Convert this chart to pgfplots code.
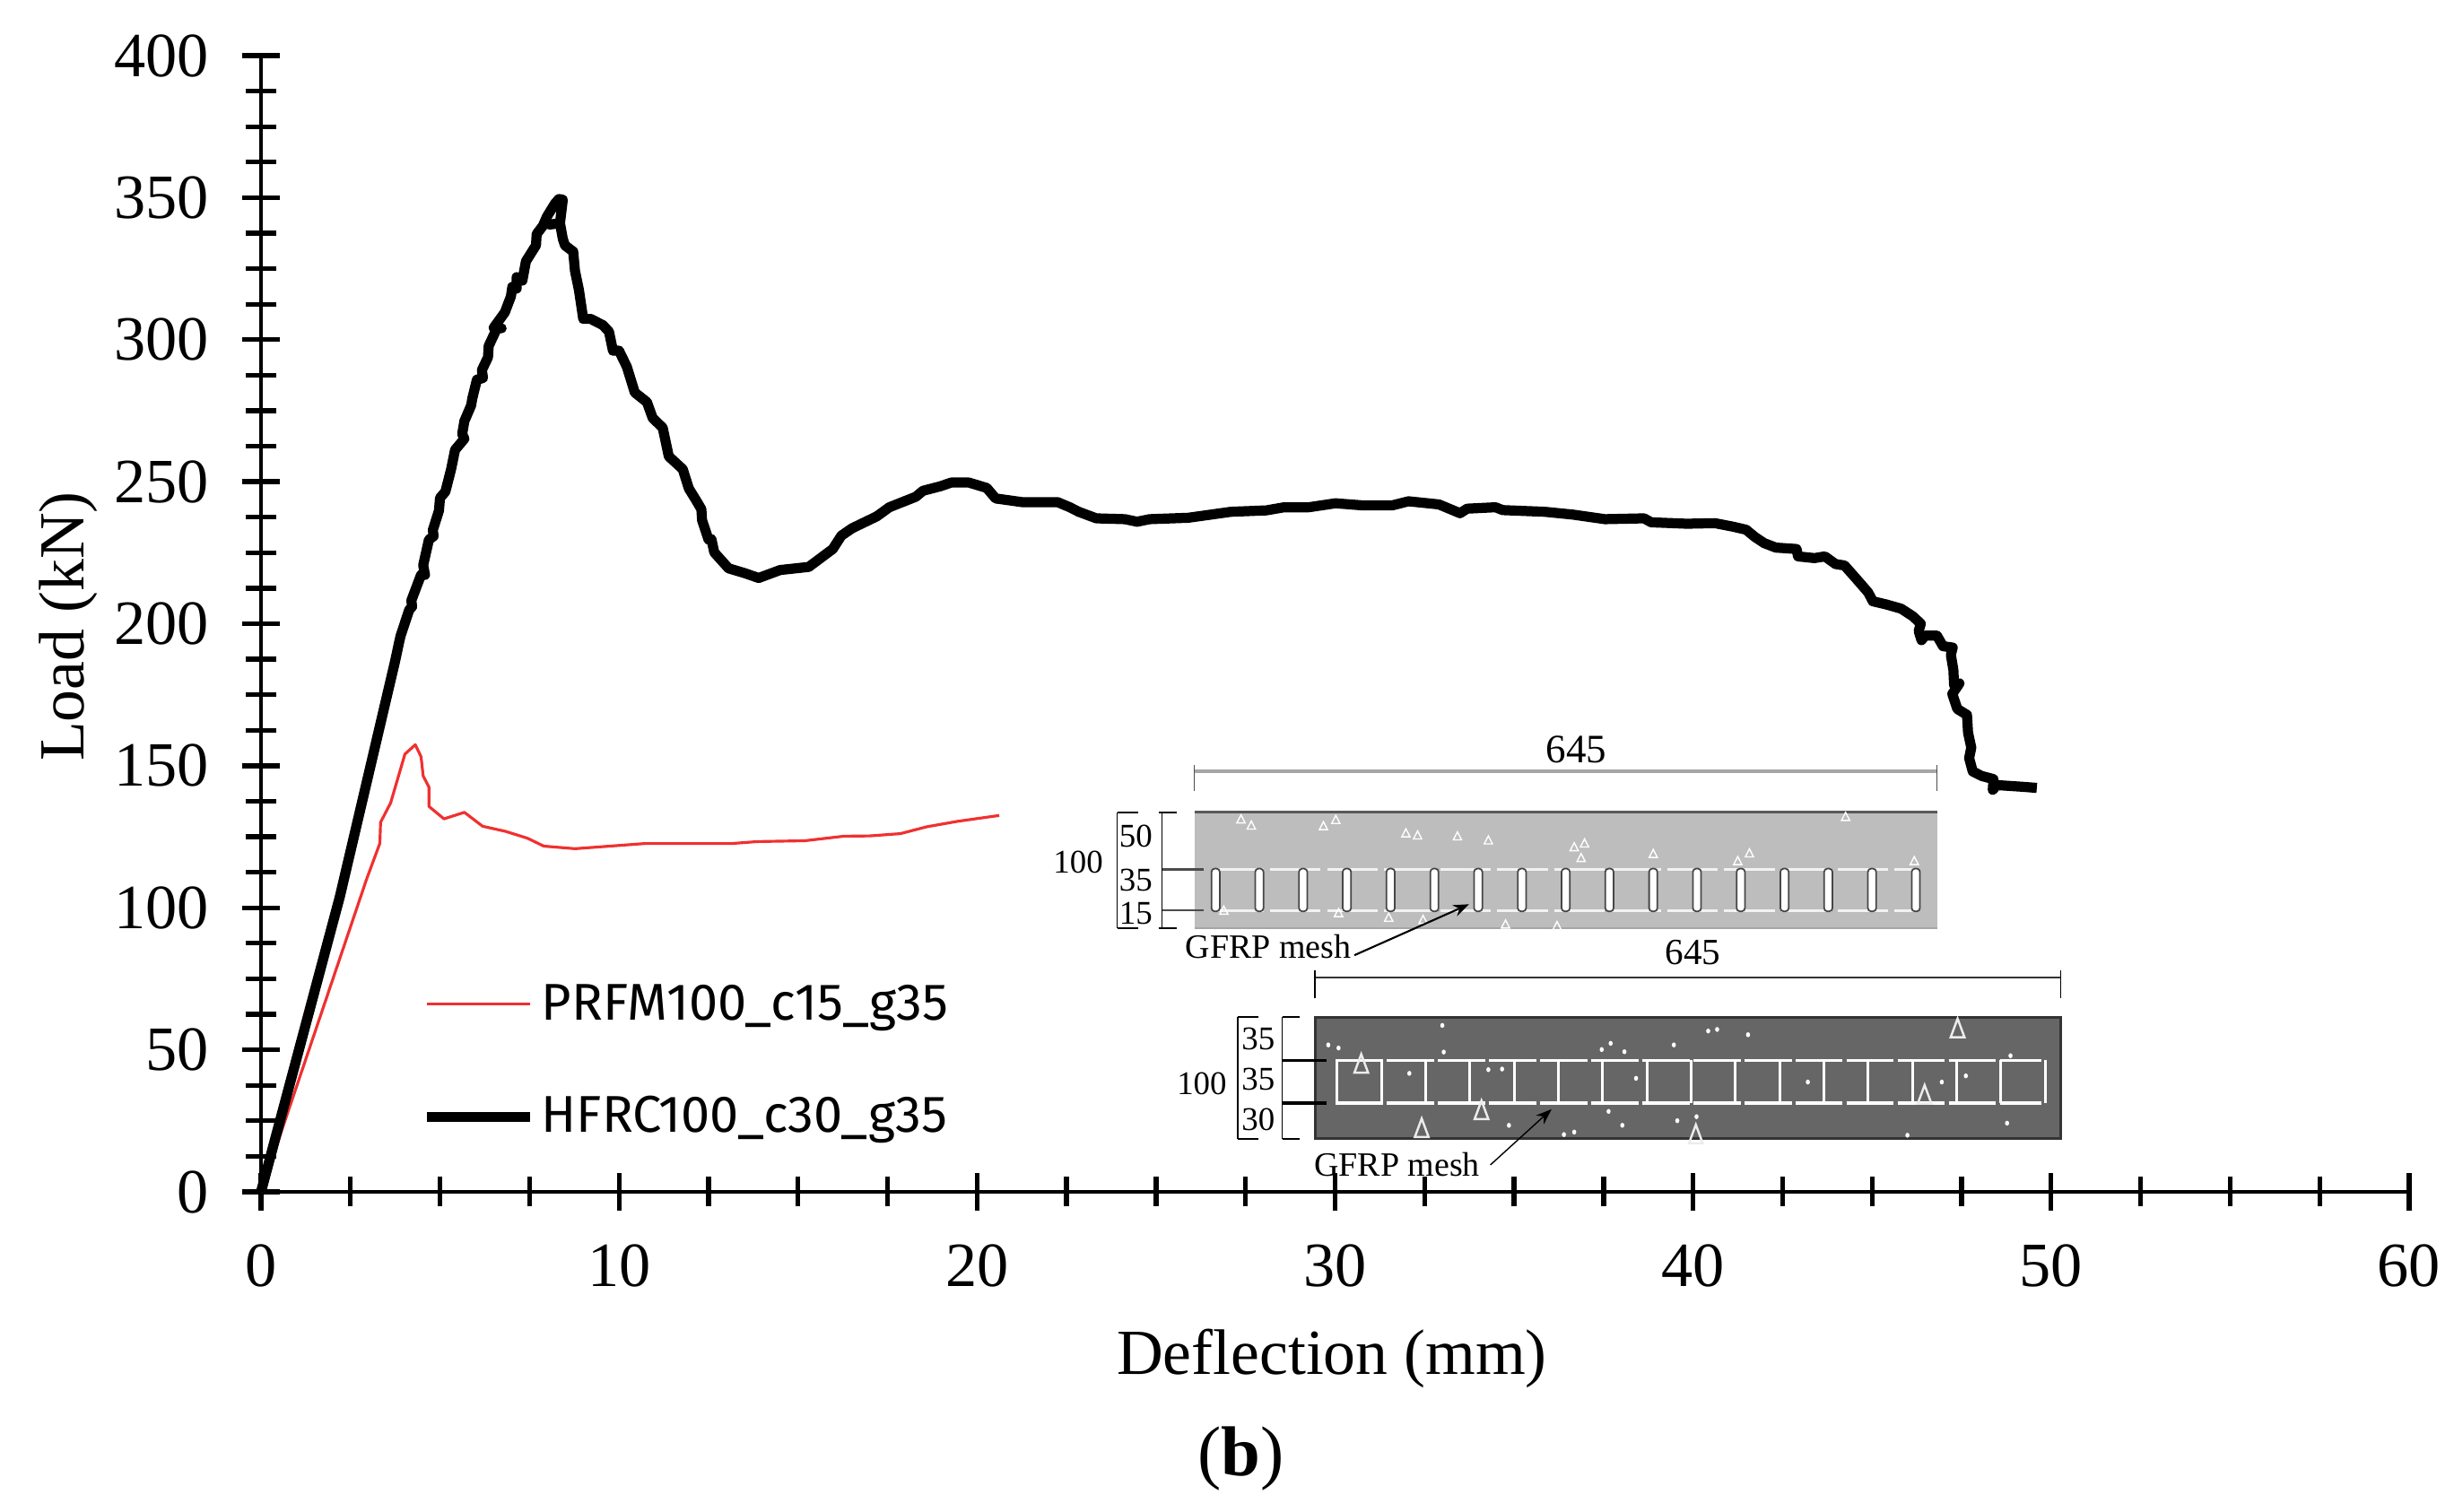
\documentclass[border=0pt]{standalone}
\usepackage{fontspec}
\setmainfont{Liberation Serif}
\newfontfamily\legfont{Fira Sans}
\usepackage{pgfplots}
\pgfplotsset{compat=1.18}
\usetikzlibrary{arrows.meta}
\definecolor{lightpanel}{HTML}{BDBDBD}
\definecolor{darkpanel}{HTML}{666666}
\definecolor{curvered}{HTML}{F03030}
\newcommand{\pts}[1]{\fontsize{#1}{#1}\selectfont}
\begin{document}
\begin{tikzpicture}
\useasboundingbox (-2.91,-3.57) rectangle (24.45,13.29);
\begin{axis}[
  scale only axis, width=23.95cm, height=12.67cm,
  xmin=0, xmax=60, ymin=0, ymax=400,
  axis x line=bottom, axis y line=left,
  axis line style={-, line width=1.4pt},
  xtick={0,10,...,60}, ytick={0,50,...,400},
  minor tick num=3,
  tick align=center,
  major tick length=0.42cm, minor tick length=0.33cm,
  tick style={black, line width=1.5pt},
  minor tick style={black, line width=1.5pt},
  /pgf/number format/assume math mode=true,
  tick label style={font=\pts{20}},
  xticklabel style={yshift=-0.25cm},
  yticklabel style={xshift=-0.25cm},
  xlabel={Deflection (mm)}, ylabel={Load (kN)},
  label style={font=\pts{20.4}},
  x label style={at={(axis description cs:0.4985,-0.147)}, anchor=center},
  y label style={at={(axis description cs:-0.0895,0.4976)}, anchor=center},
  clip=false,
  legend cell align=left,
  legend style={at={(axis cs:4.48,46.2)}, anchor=west, draw=none, fill=none,
    inner sep=0pt, font=\legfont\pts{16.4}, row sep=0.80cm,
    nodes={inner sep=0pt, anchor=west}},
  legend image code/.code={\draw[#1] (0,0) -- (1.15cm,0); \path (1.22cm,0);},
]
\addplot[curvered, line width=0.9pt, line join=round] coordinates {
  (0,0) (2.95,110.1) (3.32,122.7) (3.34,130.1) (3.62,136.9) (4.02,154.1)
  (4.31,157.4) (4.47,153.2) (4.53,146.4) (4.69,142.5) (4.69,135.7) (5.11,131.3)
  (5.68,133.6) (6.19,128.7) (6.83,126.9) (7.44,124.5) (7.9,121.7) (8.77,120.8)
  (9.74,121.7) (10.71,122.6) (13.13,122.6) (13.86,123.3) (15.19,123.6)
  (16.28,125.2) (17.0,125.3) (17.86,126.1) (18.59,128.5) (19.44,130.4) (20.62,132.5)
};
\addlegendentry{PRFM100\_c15\_g35}
\addplot[black, line width=3.2pt, line join=round, line cap=butt] coordinates {
  (0,0) (2.2,103.8) (3.745,186.8) (3.86,193.6) (3.9,195.8) (4.14,204.9) (4.22,206)
  (4.2,208.2) (4.47,217.2) (4.58,217.2) (4.53,220.6) (4.69,229.6) (4.82,230.8)
  (4.8,233) (4.97,239.8) (5.0,244.3) (5.15,246.5) (5.31,254.4) (5.42,261.2)
  (5.68,265.1) (5.62,266.8) (5.68,271.3) (5.87,276.9) (5.9,279.2) (6.03,285.9)
  (6.2,286.5) (6.17,289.3) (6.34,293.8) (6.36,297.8) (6.59,304) (6.72,304)
  (6.5,304.2) (6.81,309.6) (6.98,315.2) (7.02,318.6) (7.14,318) (7.14,322)
  (7.3,320.8) (7.4,327.6) (7.68,333.2) (7.7,337.2) (7.87,340) (7.99,343.4)
  (8.21,347.9) (8.32,349.5) (8.43,349.3) (8.35,341) (8.05,340.5) (8.35,341)
  (8.43,335.5) (8.49,333.2) (8.72,331) (8.77,324.2) (8.88,317.5) (9.0,307.3)
  (9.21,307.3) (9.55,305.1) (9.72,302.8) (9.83,296.1) (10.0,296.1) (10.22,290.4)
  (10.44,281.4) (10.78,278) (10.94,272.4) (11.22,269) (11.39,258.9) (11.78,254.4)
  (11.95,247.6) (12.17,243.1) (12.3,240.3) (12.32,236.4) (12.5,229.6) (12.58,229.8)
  (12.66,225.1) (13.06,219.5) (13.51,217.8) (13.9,216.1) (14.5,218.9) (15.3,220)
  (15.97,226.3) (16.21,231) (16.51,233.6) (17.2,237.8) (17.55,241) (18.29,244.7)
  (18.49,246.8) (18.98,248.4) (19.28,249.7) (19.77,249.7) (20.27,247.8) (20.52,244.1)
  (21.26,242.8) (22.25,242.8) (22.59,241) (22.84,239.4) (23.33,237.1) (24.13,236.8)
  (24.47,235.9) (24.82,236.8) (25.9,237.3) (27.09,239.4) (28.08,239.9) (28.58,241)
  (29.27,241) (30.01,242.4) (30.73,241.7) (31.61,241.7) (32.05,243.1) (32.9,242)
  (33.49,238.9) (33.69,240.5) (34.48,241) (34.68,240) (35.86,239.4) (36.65,238.4)
  (37.54,236.8) (38.63,237.1) (38.83,235.7) (39.82,235.2) (40.61,235.4) (41.1,234.2)
  (41.48,233.1) (41.73,230.5) (41.98,228.4) (42.31,226.8) (42.89,226.3) (42.93,223.7)
  (43.39,223.1) (43.68,223.7) (43.98,221) (44.23,220.5) (44.56,215.8) (44.89,211)
  (45.02,207.9) (45.39,206.8) (45.81,205.3) (46.14,202.6) (46.36,200) (46.3,197.4)
  (46.38,194.2) (46.48,195.8) (46.81,195.8) (46.98,192.1) (47.25,191.6) (47.2,189)
  (47.27,183.7) (47.29,178.4) (47.44,179) (47.24,175.3) (47.38,170) (47.65,167.9)
  (47.68,161.6) (47.77,156.4) (47.71,152.7) (47.81,148) (48.06,146.4) (48.39,145.3)
  (48.37,141.5) (48.48,143.2) (49.2,142.6) (49.6,142.2)
};
\addlegendentry{HFRC100\_c30\_g35}
\end{axis}
% panel label, positions in reference pixels
\begin{scope}[shift={(-2.91,13.29)}, x=0.01cm, y=-0.01cm]
  \node[font=\pts{22.4}] at (1384,1628) {(\textbf{b})};
\end{scope}
% beam sections, coordinates as read on the zoomed crop
\begin{scope}[shift={(8.59,5.19)}, x=0.007653cm, y=-0.003444cm]
  % upper section
  \fill[lightpanel] (237,278) rectangle (1318,652);
  \draw[gray!70!black, line width=0.8pt] (237,278) -- (1318,278);
  \draw[gray!70, line width=0.6pt] (237,652) -- (1318,652);
  \draw[white!90!gray, line width=0.9pt, dash pattern=on 16pt off 2pt] (265,462) -- (1290,462);
  \draw[white!90!gray, line width=0.9pt, dash pattern=on 16pt off 2pt] (265,595) -- (1290,595);
  \foreach \i in {0,...,16}
    \draw[gray!55!black, fill=white, line width=0.5pt, rounded corners=1pt]
      ({262+63.7*\i},460) rectangle ({274+63.7*\i},598);
  \foreach \p in {(305,300),(320,320),(425,322),(443,302),(545,345),(562,352),(620,355),
      (665,368),(790,390),(805,378),(800,425),(905,412),(1028,435),(1045,410),(1185,292),
      (1285,435),(520,618),(570,625),(690,640),(447,603),(280,595),(765,645)}
    \draw[white, line width=0.4pt] \p ++(0,-14) -- ++(6,26) -- ++(-12,0) -- cycle;
  % upper dimensions
  \draw[gray!70, line width=0.9pt] (237,145) -- (1318,145);
  \draw[gray!60!black, line width=0.4pt] (237,125) -- (237,210) (1318,125) -- (1318,210);
  \node[font=\pts{12.8}] at (793,75) {645};
  \draw[black, line width=0.4pt] (125,278) -- (125,652) (190,278) -- (190,652);
  \draw[black, line width=0.5pt] (125,278) -- (155,278) (185,278) -- (212,278)
    (125,652) -- (155,652) (185,652) -- (212,652);
  \draw[black!70, line width=0.7pt] (190,462) -- (250,462) (190,595) -- (250,595);
  \node[font=\pts{10.5}] at (68,438) {100};
  \node[font=\pts{10.5}] at (152,355) {50};
  \node[font=\pts{10.5}] at (152,497) {35};
  \node[font=\pts{10.5}] at (152,605) {15};
  \node[font=\pts{10.8}] at (345,712) {GFRP mesh};
  \draw[black, line width=0.6pt, -{Stealth[length=5pt]}] (470,740) -- (637,575);
  % lower section
  \fill[darkpanel] (413,940) rectangle (1498,1333);
  \draw[black!80, line width=0.9pt] (413,940) rectangle (1498,1333);
  \draw[white, line width=1pt, dash pattern=on 15pt off 1.2pt] (443,1080) -- (1470,1080);
  \draw[white, line width=1pt, dash pattern=on 15pt off 1.2pt] (443,1218) -- (1470,1218);
  \foreach \i in {0,...,16}
    \draw[white, line width=0.8pt] ({445+64.4*\i},1080) -- ({445+64.4*\i},1218);
  \foreach \p in {(1348,975),(655,1240),(568,1298),(1300,1190),(480,1090),(967,1318)}
    \draw[white!85!gray, line width=0.7pt] \p ++(0,-30) -- ++(10,60) -- ++(-20,0) -- cycle;
  \foreach \p in {(598,967),(985,985),(998,980),(1043,997),(432,1030),(447,1040),(843,1025),
      (935,1030),(830,1045),(863,1052),(600,1053),(550,1122),(665,1110),(685,1108),(880,1138),
      (1130,1150),(1360,1130),(1325,1150),(840,1245),(940,1275),(968,1262),(860,1290),
      (695,1290),(775,1320),(790,1312),(1420,1283),(1275,1322),(1425,1065)}
    \fill[white] \p circle[x radius=3, y radius=8];
  % lower dimensions
  \draw[black!80, line width=0.8pt] (413,812) -- (1498,812);
  \draw[black, line width=0.5pt] (413,790) -- (413,880) (1498,790) -- (1498,880);
  \node[font=\pts{11.7}] at (963,730) {645};
  \draw[black, line width=0.5pt] (300,940) -- (300,1333) (365,940) -- (365,1333);
  \draw[black, line width=0.6pt] (300,940) -- (330,940) (365,940) -- (390,940)
    (300,1333) -- (330,1333) (365,1333) -- (390,1333);
  \draw[black, line width=1pt] (365,1080) -- (430,1080) (365,1218) -- (430,1218);
  \node[font=\pts{10.5}] at (248,1155) {100};
  \node[font=\pts{10.5}] at (330,1010) {35};
  \node[font=\pts{10.5}] at (330,1140) {35};
  \node[font=\pts{10.5}] at (330,1270) {30};
  \node[font=\pts{10.8}] at (532,1418) {GFRP mesh};
  \draw[black, line width=0.4pt, -{Stealth[length=5pt]}] (668,1418) -- (757,1238);
\end{scope}
\end{tikzpicture}
\end{document}
